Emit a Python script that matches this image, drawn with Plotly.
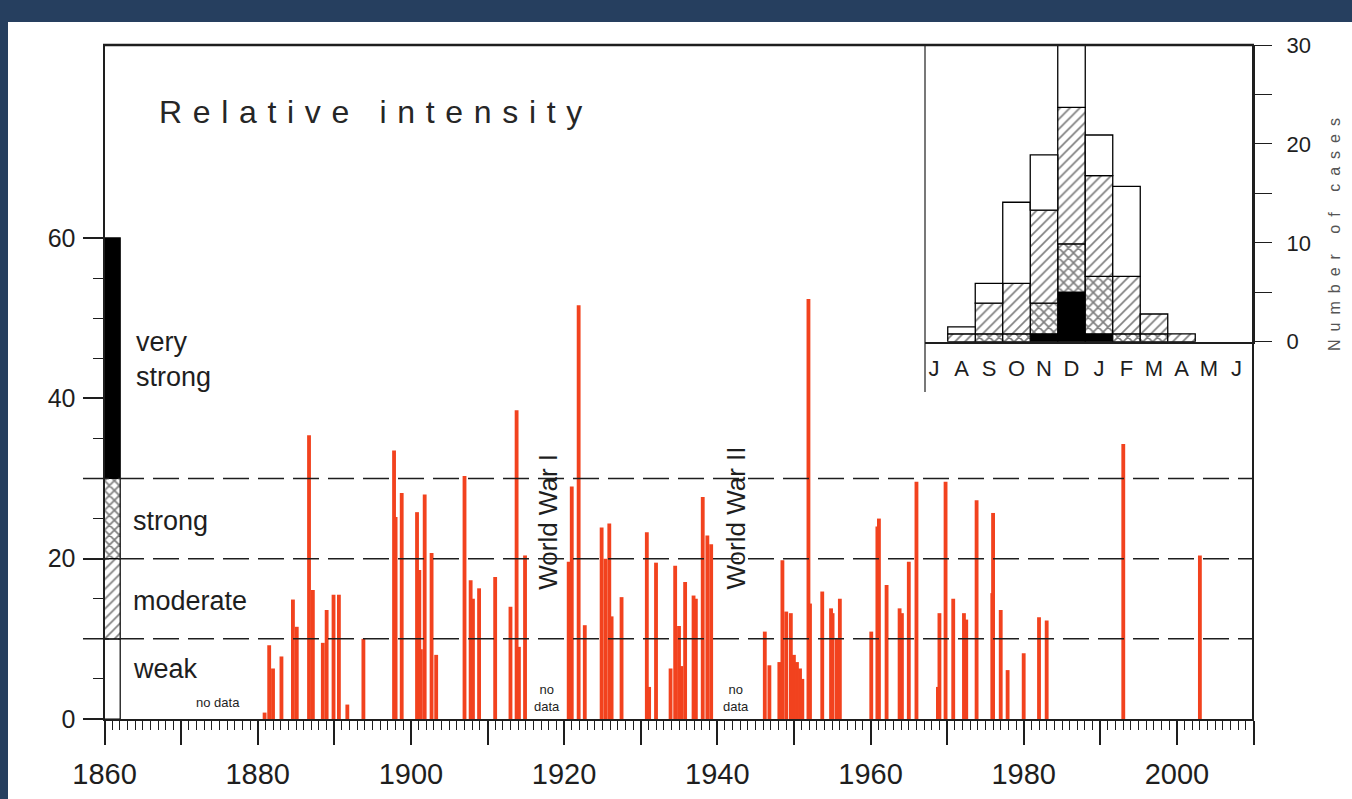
import plotly.graph_objects as go

W, H = 1352, 799

# ---------------- data ----------------
# individual events: year and relative intensity
event_years = [
    1880.9, 1881.5, 1882.0, 1883.1, 1884.6, 1885.1, 1886.7, 1887.2, 1888.5, 1889.0,
    1889.9, 1890.6, 1891.7, 1893.8, 1897.8, 1898.0, 1898.8, 1900.8, 1901.1, 1901.3,
    1901.8, 1902.7, 1903.3, 1907.0, 1907.8, 1908.1, 1908.9, 1911.0, 1913.0, 1913.8,
    1914.1, 1914.9, 1920.6, 1921.0, 1921.9, 1922.7, 1924.9, 1925.4, 1925.9, 1926.2,
    1927.5, 1930.8, 1931.1, 1932.0, 1933.9, 1934.5, 1935.0, 1935.3, 1935.8, 1936.9,
    1937.2, 1938.1, 1938.7, 1939.2, 1946.2, 1946.8, 1948.1, 1948.5, 1949.0, 1949.6,
    1950.0, 1950.4, 1950.8, 1951.1, 1951.9, 1952.1, 1953.7, 1954.85, 1955.05, 1955.6,
    1956.0, 1960.1, 1960.9, 1961.1, 1962.1, 1963.8, 1964.1, 1965.0, 1966.0, 1968.8,
    1969.0, 1969.8, 1970.8, 1972.2, 1972.5, 1973.85, 1975.9, 1976.0, 1977.0, 1977.9,
    1980.0, 1982.0, 1983.0, 1993.0, 2003.0,
]
event_intensity = [
    0.8, 9.2, 6.3, 7.8, 14.9, 11.5, 35.4, 16.1, 9.5, 13.6,
    15.5, 15.5, 1.8, 10.0, 33.5, 25.2, 28.2, 25.8, 18.6, 8.7,
    28.0, 20.7, 8.0, 30.3, 17.3, 15.0, 16.3, 17.7, 14.0, 38.5,
    9.0, 20.4, 19.6, 29.0, 51.6, 11.7, 23.9, 20.0, 24.4, 12.8,
    15.2, 23.3, 4.0, 19.5, 6.3, 19.1, 11.6, 6.6, 17.1, 15.4,
    15.0, 27.7, 22.9, 21.8, 10.9, 6.7, 7.1, 19.8, 13.4, 13.2,
    8.0, 7.1, 6.3, 5.0, 52.4, 14.4, 15.9, 13.8, 13.2, 10.0,
    15.0, 10.9, 24.0, 25.0, 16.7, 13.8, 13.2, 19.6, 29.6, 4.0,
    13.2, 29.6, 15.0, 13.2, 12.4, 27.3, 15.7, 25.7, 13.6, 6.1,
    8.2, 12.7, 12.3, 34.3, 20.4,
]

# intensity classes (legend bar on the left)
class_labels = ["weak", "moderate", "strong", "very<br>strong"]
class_bounds = [0, 10, 20, 30, 60]

# seasonal distribution (inset), number of cases per month and class
months = ["J", "A", "S", "O", "N", "D", "J", "F", "M", "A", "M", "J"]
cases_very_strong = [0, 0, 0, 0, 0.8, 5.0, 0.8, 0, 0, 0, 0, 0]
cases_strong = [0, 0, 0.8, 0.8, 3.1, 4.9, 5.8, 0.8, 0.8, 0, 0, 0]
cases_moderate = [0, 0.8, 3.1, 5.1, 9.4, 13.8, 10.2, 5.8, 2.0, 0.8, 0, 0]
cases_weak = [0, 0.7, 2.0, 8.2, 5.6, 6.3, 4.1, 9.1, 0, 0, 0, 0]

x_tick_vals = [1860, 1870, 1880, 1890, 1900, 1910, 1920, 1930, 1940, 1950,
               1960, 1970, 1980, 1990, 2000, 2010]
x_tick_text = ["1860", "", "1880", "", "1900", "", "1920", "", "1940", "",
               "1960", "", "1980", "", "2000", ""]
y_tick_vals = [0, 20, 40, 60]
y2_tick_vals = [0, 10, 20, 30]

# ---------------- styling ----------------
NAVY = "#263f5f"
RED = "#f2421e"
INK = "#1e1e1e"
FONT = "Arial"


def px(p):
    return p / W


def py(p):
    return 1 - p / H


HATCH = dict(shape="/", fgcolor="black", bgcolor="white", size=7, solidity=0.24)
CROSS = dict(shape="x", fgcolor="black", bgcolor="white", size=7, solidity=0.42)

fig = go.Figure()

# red event bars
fig.add_trace(go.Bar(
    x=event_years, y=event_intensity, width=0.5,
    marker=dict(color=RED, line=dict(width=0)),
    xaxis="x", yaxis="y", hoverinfo="x+y",
))

# legend bar of the intensity classes
class_styles = [
    dict(color="white", pattern=dict(shape="")),
    dict(color="white", pattern=HATCH),
    dict(color="white", pattern=CROSS),
    dict(color="black", pattern=dict(shape="")),
]
for i in range(4):
    st = class_styles[i]
    fig.add_trace(go.Bar(
        x=[1861], y=[class_bounds[i + 1] - class_bounds[i]], base=[class_bounds[i]],
        width=2.1, marker=dict(color=st["color"], pattern=st["pattern"],
                               line=dict(color="black", width=1.2)),
        xaxis="x", yaxis="y", hoverinfo="skip",
    ))

# inset histogram: stacked layers
layers = [
    (cases_very_strong, dict(color="black", pattern=dict(shape=""))),
    (cases_strong, dict(color="white", pattern=CROSS)),
    (cases_moderate, dict(color="white", pattern=HATCH)),
    (cases_weak, dict(color="white", pattern=dict(shape=""))),
]
cum = [0.0] * len(months)
for vals, st in layers:
    xs, ys, bs = [], [], []
    for m in range(len(months)):
        if vals[m] > 0:
            xs.append(m)
            ys.append(vals[m])
            bs.append(cum[m])
        cum[m] += vals[m]
    fig.add_trace(go.Bar(
        x=xs, y=ys, base=bs, width=1.0,
        marker=dict(color=st["color"], pattern=st["pattern"],
                    line=dict(color="black", width=1.3)),
        xaxis="x2", yaxis="y2", hoverinfo="y",
    ))

# ---------------- shapes ----------------
shapes = [
    # white page area inside the navy frame
    dict(type="rect", xref="paper", yref="paper", x0=px(8), x1=px(W + 2), y0=py(H + 2), y1=py(22),
         fillcolor="white", line=dict(width=0), layer="below"),
]
for lvl in class_bounds[1:4]:
    shapes.append(dict(type="line", xref="paper", yref="y", x0=px(83), x1=px(1253), y0=lvl, y1=lvl,
                       line=dict(color=INK, width=1.5, dash="26px,9px"), layer="above"))
# frame: top and right
shapes.append(dict(type="line", xref="paper", yref="paper", x0=px(103), x1=px(1254), y0=py(45), y1=py(45),
                   line=dict(color=INK, width=2.5), layer="above"))
shapes.append(dict(type="line", xref="paper", yref="paper", x0=px(1253), x1=px(1253), y0=py(45), y1=py(720),
                   line=dict(color=INK, width=2), layer="above"))
# inset left border
shapes.append(dict(type="line", xref="paper", yref="paper", x0=px(925), x1=px(925), y0=py(45), y1=py(392),
                   line=dict(color=INK, width=1.2), layer="above"))

# ---------------- annotations ----------------
def spaced(text, gap):
    words = text.split(" ")
    return (gap + " " + gap).join(gap.join(list(w)) for w in words)


annotations = [
    dict(text=spaced("Relative intensity", "\u2004"), xref="paper", yref="paper",
         x=px(157), y=py(112), xanchor="left", yanchor="middle", showarrow=False,
         font=dict(family=FONT, size=32, color="#262626")),
    dict(text=spaced("Number of cases", "\u2002"), xref="paper", yref="paper",
         x=px(1334), y=py(235), xanchor="center", yanchor="middle", showarrow=False,
         textangle=-90, font=dict(family=FONT, size=16, color="#555555")),
    dict(text="World War I", xref="x", yref="y", x=1917.9, y=24.6, showarrow=False,
         textangle=-90, font=dict(family=FONT, size=26, color=INK)),
    dict(text="World War II", xref="x", yref="y", x=1942.4, y=25.1, showarrow=False,
         textangle=-90, font=dict(family=FONT, size=26, color=INK)),
    dict(text="no data", xref="x", yref="y", x=1874.8, y=2.0, showarrow=False,
         font=dict(family=FONT, size=13, color=INK)),
    dict(text="no<br>data", xref="x", yref="y", x=1917.8, y=2.6, showarrow=False,
         font=dict(family=FONT, size=13, color=INK)),
    dict(text="no<br>data", xref="x", yref="y", x=1942.5, y=2.6, showarrow=False,
         font=dict(family=FONT, size=13, color=INK)),
]
label_pos = [(1863.5, 6.2), (1863.5, 14.7), (1863.5, 24.7), (1863.8, 44.8)]
for lab, (lx, ly) in zip(class_labels, label_pos):
    annotations.append(dict(text=lab, xref="x", yref="y", x=lx, y=ly, xanchor="left", yanchor="middle",
                            align="left", showarrow=False, font=dict(family=FONT, size=27, color=INK)))

# ---------------- layout ----------------
fig.update_layout(
    width=W, height=H, autosize=False,
    margin=dict(l=0, r=0, t=0, b=0, pad=0, autoexpand=False),
    paper_bgcolor=NAVY, plot_bgcolor="rgba(0,0,0,0)",
    barmode="overlay", showlegend=False,
    font=dict(family=FONT, color=INK),
    shapes=shapes, annotations=annotations,
    xaxis=dict(
        domain=[px(104.5), px(1253.5)], range=[1860, 2010], anchor="y", automargin=False,
        tickmode="array", tickvals=x_tick_vals, ticktext=x_tick_text,
        ticks="outside", ticklen=24, tickwidth=1.5, tickcolor=INK,
        minor=dict(dtick=1, tick0=1860, ticks="outside", ticklen=9, tickwidth=1, tickcolor=INK),
        showline=True, linewidth=2, linecolor=INK, showgrid=False, zeroline=False,
        tickfont=dict(family=FONT, size=29, color=INK), ticklabelstandoff=4,
    ),
    yaxis=dict(
        domain=[py(719), py(45)], range=[0, 84.07], anchor="x", automargin=False,
        tickmode="array", tickvals=y_tick_vals,
        ticks="outside", ticklen=20, tickwidth=1.5, tickcolor=INK,
        minor=dict(tickmode="array", tickvals=[5, 10, 15, 25, 30, 35, 45, 50, 55],
                   ticks="outside", ticklen=10, tickwidth=1, tickcolor=INK),
        showline=True, linewidth=2, linecolor=INK, showgrid=False, zeroline=False,
        tickfont=dict(family=FONT, size=25, color=INK), ticklabelstandoff=2,
    ),
    xaxis2=dict(
        domain=[px(925), px(1253)], range=[-0.327, 11.6], anchor="y2", automargin=False,
        tickmode="array", tickvals=list(range(len(months))), ticktext=months,
        ticks="", showline=True, linewidth=1.5, linecolor=INK, showgrid=False, zeroline=False,
        tickfont=dict(family=FONT, size=22, color=INK), ticklabelstandoff=6,
    ),
    yaxis2=dict(
        domain=[py(341.7), py(45)], range=[0, 30], anchor="x2", side="right", automargin=False,
        tickmode="array", tickvals=y2_tick_vals,
        ticks="outside", ticklen=17, tickwidth=1.2, tickcolor=INK,
        minor=dict(tickmode="array", tickvals=[5, 15, 25], ticks="outside", ticklen=17,
                   tickwidth=1, tickcolor=INK),
        showline=True, linewidth=2, linecolor=INK, showgrid=False, zeroline=False,
        tickfont=dict(family=FONT, size=22, color=INK), ticklabelstandoff=10,
    ),
)

fig.write_html("out.html")
